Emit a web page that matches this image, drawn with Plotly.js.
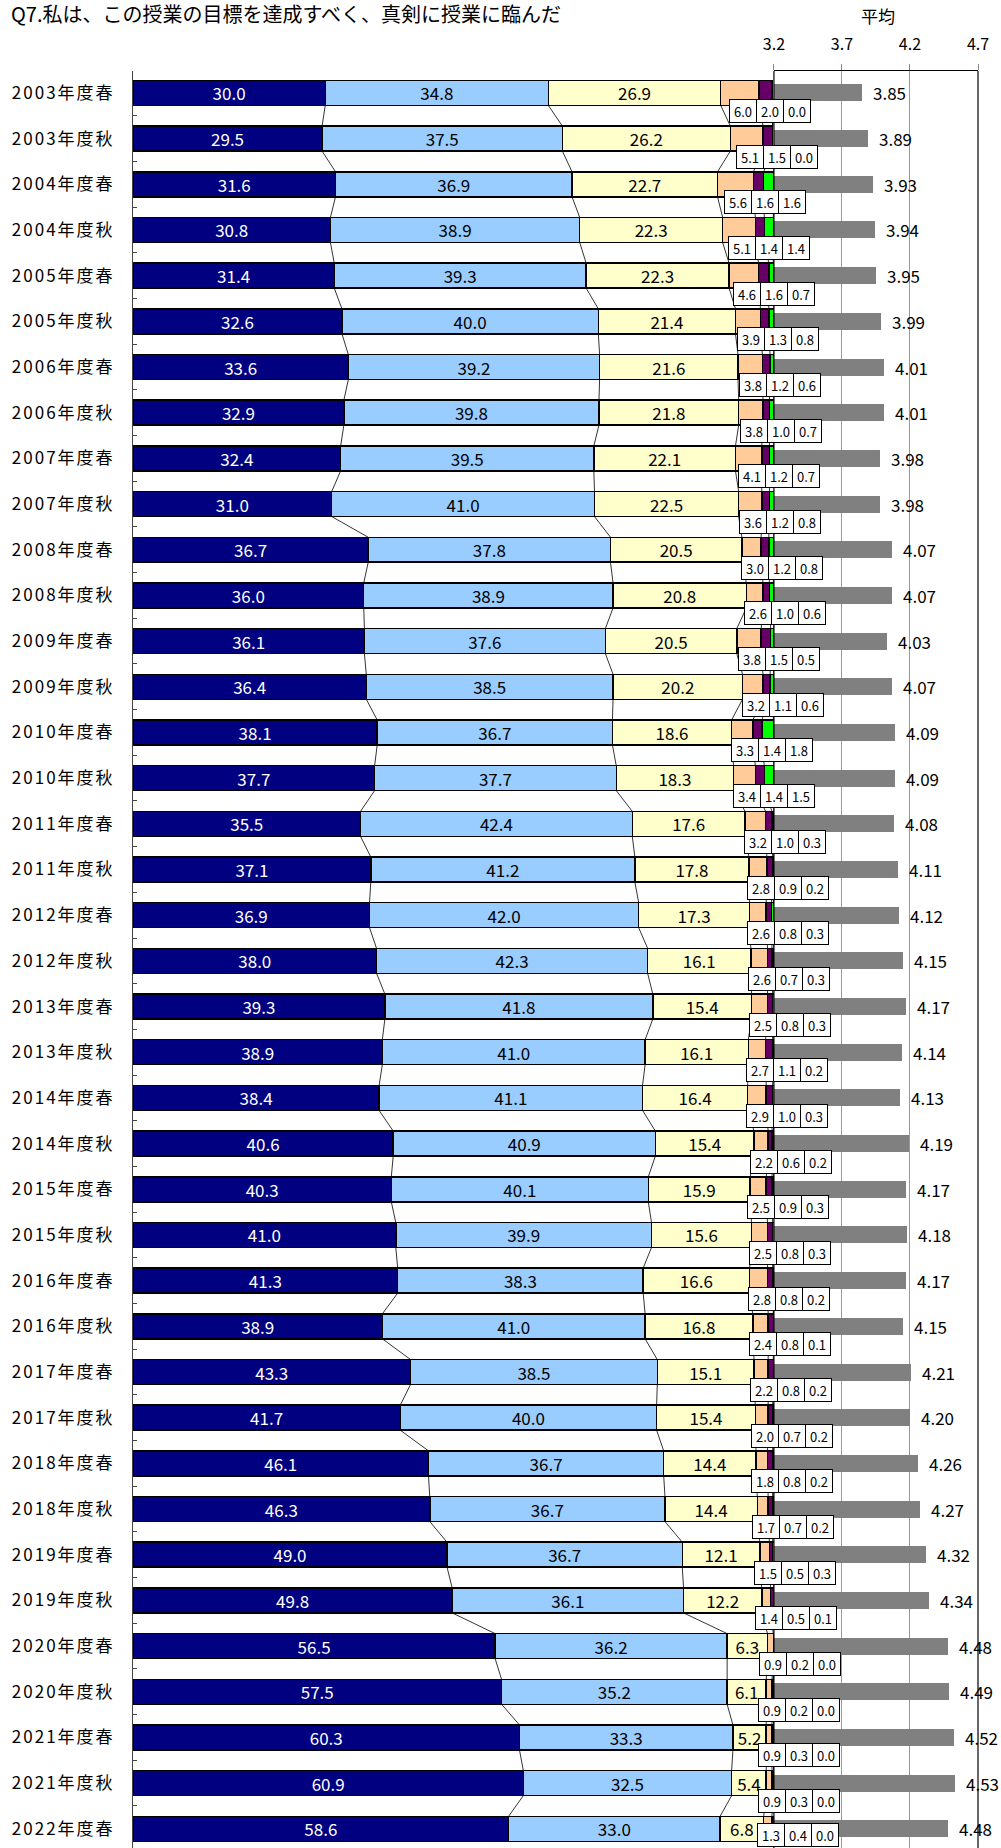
<!DOCTYPE html>
<html>
<head>
<meta charset="utf-8">
<script src="https://cdn.plot.ly/plotly-3.0.1.min.js"></script>
<style>
  html, body { margin: 0; padding: 0; overflow: hidden; background: #fff; }
  #chart { width: 1001px; height: 1848px; }
  #chart .yaxislayer-above .ytick text { letter-spacing: 2px; }
</style>
</head>
<body>
<div id="chart"></div>
<script>
// ---------- data ----------
const categories = [
  '2003年度春','2003年度秋','2004年度春','2004年度秋','2005年度春','2005年度秋',
  '2006年度春','2006年度秋','2007年度春','2007年度秋','2008年度春','2008年度秋',
  '2009年度春','2009年度秋','2010年度春','2010年度秋','2011年度春','2011年度秋',
  '2012年度春','2012年度秋','2013年度春','2013年度秋','2014年度春','2014年度秋',
  '2015年度春','2015年度秋','2016年度春','2016年度秋','2017年度春','2017年度秋',
  '2018年度春','2018年度秋','2019年度春','2019年度秋','2020年度春','2020年度秋',
  '2021年度春','2021年度秋','2022年度春'
];
const s1 = [30.0,29.5,31.6,30.8,31.4,32.6,33.6,32.9,32.4,31.0,36.7,36.0,36.1,36.4,38.1,37.7,35.5,37.1,36.9,38.0,39.3,38.9,38.4,40.6,40.3,41.0,41.3,38.9,43.3,41.7,46.1,46.3,49.0,49.8,56.5,57.5,60.3,60.9,58.6];
const s2 = [34.8,37.5,36.9,38.9,39.3,40.0,39.2,39.8,39.5,41.0,37.8,38.9,37.6,38.5,36.7,37.7,42.4,41.2,42.0,42.3,41.8,41.0,41.1,40.9,40.1,39.9,38.3,41.0,38.5,40.0,36.7,36.7,36.7,36.1,36.2,35.2,33.3,32.5,33.0];
const s3 = [26.9,26.2,22.7,22.3,22.3,21.4,21.6,21.8,22.1,22.5,20.5,20.8,20.5,20.2,18.6,18.3,17.6,17.8,17.3,16.1,15.4,16.1,16.4,15.4,15.9,15.6,16.6,16.8,15.1,15.4,14.4,14.4,12.1,12.2,6.3,6.1,5.2,5.4,6.8];
const s4 = [6.0,5.1,5.6,5.1,4.6,3.9,3.8,3.8,4.1,3.6,3.0,2.6,3.8,3.2,3.3,3.4,3.2,2.8,2.6,2.6,2.5,2.7,2.9,2.2,2.5,2.5,2.8,2.4,2.2,2.0,1.8,1.7,1.5,1.4,0.9,0.9,0.9,0.9,1.3];
const s5 = [2.0,1.5,1.6,1.4,1.6,1.3,1.2,1.0,1.2,1.2,1.2,1.0,1.5,1.1,1.4,1.4,1.0,0.9,0.8,0.7,0.8,1.1,1.0,0.6,0.9,0.8,0.8,0.8,0.8,0.7,0.8,0.7,0.5,0.5,0.2,0.2,0.3,0.3,0.4];
const s6 = [0.0,0.0,1.6,1.4,0.7,0.8,0.6,0.7,0.7,0.8,0.8,0.6,0.5,0.6,1.8,1.5,0.3,0.2,0.3,0.3,0.3,0.2,0.3,0.2,0.3,0.3,0.2,0.1,0.2,0.2,0.2,0.2,0.3,0.1,0.0,0.0,0.0,0.0,0.0];
const average = [3.85,3.89,3.93,3.94,3.95,3.99,4.01,4.01,3.98,3.98,4.07,4.07,4.03,4.07,4.09,4.09,4.08,4.11,4.12,4.15,4.17,4.14,4.13,4.19,4.17,4.18,4.17,4.15,4.21,4.20,4.26,4.27,4.32,4.34,4.48,4.49,4.52,4.53,4.48];
const avgTicks = [3.2, 3.7, 4.2, 4.7];
const titleText = 'Q7.私は、この授業の目標を達成すべく、真剣に授業に臨んだ';
const avgTitle = '平均';

// ---------- styling ----------
const FONT = '"Noto Sans CJK JP", "Noto Sans", sans-serif';
const colors = ['#000080', '#99CCFF', '#FFFFCC', '#FFCC99', '#660066', '#00FF00'];
const BAR_W = 0.547;
const AVG_W = 0.372;

const series = [s1, s2, s3, s4, s5, s6];
const idx = categories.map((_, i) => i);

const traces = [];

// connector (series) lines between consecutive bars, from cumulative boundaries
const cums = [];
let run = idx.map(() => 0);
series.forEach(vals => {
  run = run.map((r, i) => r + vals[i]);
  cums.push(run.slice());
});
const cx = [], cy = [];
cums.forEach(c => {
  for (let i = 0; i < idx.length - 1; i++) {
    cx.push(c[i], c[i + 1], null);
    cy.push(i + BAR_W / 2, i + 1 - BAR_W / 2, null);
  }
});
traces.push({
  type: 'scatter', mode: 'lines', x: cx, y: cy, xaxis: 'x', yaxis: 'y',
  line: { color: '#000', width: 0.8 }, hoverinfo: 'skip', showlegend: false
});

series.forEach((vals, k) => {
  traces.push({
    type: 'bar', orientation: 'h', x: vals, y: idx, xaxis: 'x', yaxis: 'y',
    width: BAR_W,
    marker: { color: colors[k], line: { color: '#000', width: 1.5 } },
    text: k < 3 ? vals.map(v => v.toFixed(1)) : null,
    textposition: k < 3 ? 'inside' : 'none',
    insidetextanchor: 'middle', textangle: 0, constraintext: 'none',
    textfont: { family: FONT, size: 17, color: k === 0 ? '#ffffff' : '#000000' },
    hoverinfo: 'skip', showlegend: false
  });
});

// average bars (clipped at the 3.2 axis start)
traces.push({
  type: 'bar', orientation: 'h', x: average, y: idx, xaxis: 'x2', yaxis: 'y',
  width: AVG_W, marker: { color: '#808080', line: { width: 0 } },
  hoverinfo: 'skip', showlegend: false
});

// ---------- annotations ----------
const annotations = [];
average.forEach((v, i) => {
  annotations.push({
    x: v, y: i, xref: 'x2', yref: 'y', text: v.toFixed(2), showarrow: false,
    xanchor: 'left', xshift: 9, font: { family: FONT, size: 17, color: '#000' }
  });
});
const small = [s4, s5, s6];
const last = idx.length - 1;
idx.forEach(i => {
  const center = cums[2][i] + s4[i] / 2;
  small.forEach((vals, j) => {
    annotations.push({
      x: center, y: i, xref: 'x', yref: 'y', text: vals[i].toFixed(1), showarrow: false,
      xshift: j * 27 + 3, yshift: i === last ? -6 : -18, width: 24, height: 20,
      bgcolor: '#ffffff', bordercolor: '#000', borderwidth: 1, borderpad: 1,
      font: { family: FONT, size: 13, color: '#000' }
    });
  });
});
annotations.push({
  text: avgTitle, xref: 'x2 domain', yref: 'paper', x: 0.5, y: 1, xshift: 2,
  yanchor: 'middle', yshift: 56, showarrow: false,
  font: { family: FONT, size: 17, color: '#000' }
});

const boundaries = idx.map(i => i - 0.5).concat([idx.length - 0.5]);

const SPLIT = 0.7585;
const layout = {
  width: 1001, height: 1848,
  margin: { l: 133, r: 23, t: 71, b: 0, pad: 0 },
  paper_bgcolor: '#fff', plot_bgcolor: 'rgba(0,0,0,0)',
  font: { family: FONT, color: '#000' },
  title: {
    text: titleText, xref: 'container', yref: 'container',
    x: 0.011, xanchor: 'left', y: 1 - 15 / 1848, yanchor: 'middle',
    font: { family: FONT, size: 20, color: '#000' }
  },
  barmode: 'stack', bargap: 0,
  showlegend: false,
  xaxis: { domain: [0, SPLIT], range: [0, 100], visible: false, fixedrange: true },
  xaxis2: {
    domain: [SPLIT, 1], range: [3.2, 4.7], anchor: 'y', side: 'top',
    tickmode: 'array', tickvals: avgTicks, ticktext: avgTicks.map(v => v.toFixed(1)),
    ticks: 'outside', ticklen: 6, tickcolor: '#888', tickwidth: 1,
    showline: true, linecolor: '#000', linewidth: 1,
    showgrid: true, gridcolor: '#999', gridwidth: 1, zeroline: false,
    tickfont: { family: FONT, size: 16, color: '#000' }, ticklabelstandoff: 8
  },
  yaxis: {
    range: [38.42, -0.48], anchor: 'x',
    tickmode: 'array', tickvals: idx, ticktext: categories,
    ticks: '', showline: true, linecolor: '#444', linewidth: 1,
    showgrid: false, zeroline: false,
    tickfont: { family: FONT, size: 17, color: '#000' }, ticklabelstandoff: 14,
    minor: { tickmode: 'array', tickvals: boundaries, ticks: 'inside', ticklen: 4, tickcolor: '#444', tickwidth: 1, showgrid: false }
  },
  shapes: [
    { type: 'line', xref: 'x2 domain', yref: 'paper', x0: 0, x1: 0, y0: 0, y1: 1, line: { color: '#000', width: 1.2 }, layer: 'above' },
    { type: 'line', xref: 'x2 domain', yref: 'paper', x0: 1, x1: 1, y0: 0, y1: 1, line: { color: '#000', width: 1.2 }, layer: 'above' }
  ],
  annotations: annotations
};

Plotly.newPlot('chart', traces, layout, { staticPlot: true, displayModeBar: false });
</script>
</body>
</html>
